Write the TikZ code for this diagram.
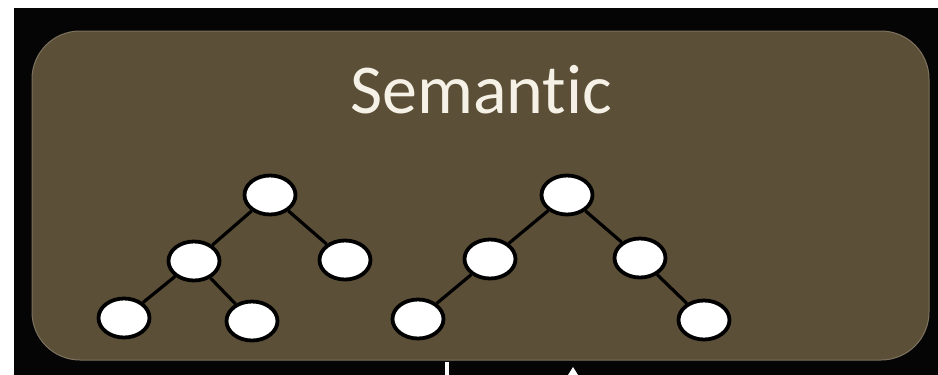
\documentclass[tikz,border=0pt]{standalone}
\usepackage{fontspec}
\setmainfont[Ligatures=NoCommon]{Carlito}
\usetikzlibrary{shapes.geometric}
\definecolor{panelbrown}{HTML}{5C4F37}
\definecolor{cream}{HTML}{F6F1E6}
\definecolor{nearblack}{HTML}{050505}
\tikzset{
  leaf/.style={ellipse, draw=black, fill=white, line width=3.8pt, minimum width=51pt, minimum height=39pt, inner sep=0pt},
  link/.style={draw=black, line width=3.2pt}
}
\begin{document}
\begin{tikzpicture}[x=1pt,y=-1pt]
\useasboundingbox (0,0) rectangle (938,375);
\fill[white] (0,0) rectangle (938,375);
\fill[nearblack] (14,8) rectangle (938,375);
\fill[panelbrown, draw=panelbrown!80!white, line width=1pt, rounded corners=48pt] (32,31) rectangle (929,360);
\node[anchor=base, text=cream, inner sep=0pt, font=\fontsize{70}{82}\selectfont] (title) at (481,113) {Semant\kern0pti\kern0ptc};
% tree 1
\node[leaf] (a) at (270,195) {};
\node[leaf] (b) at (194,261) {};
\node[leaf] (c) at (345,260) {};
\node[leaf] (d) at (124,318) {};
\node[leaf] (e) at (252,321) {};
% tree 2
\node[leaf] (f) at (567,195) {};
\node[leaf] (g) at (490,259) {};
\node[leaf] (h) at (640,258) {};
\node[leaf] (i) at (418,319) {};
\node[leaf] (j) at (704,320) {};
\draw[link] (a) -- (b);
\draw[link] (a) -- (c);
\draw[link] (b) -- (d);
\draw[link] (b) -- (e);
\draw[link] (f) -- (g);
\draw[link] (f) -- (h);
\draw[link] (g) -- (i);
\draw[link] (h) -- (j);
% cut-off glyphs at the bottom edge
\fill[white] (445,362) rectangle (449,375);
\fill[white] (568,375) -- (573,367) -- (578,375) -- cycle;
\end{tikzpicture}
\end{document}
